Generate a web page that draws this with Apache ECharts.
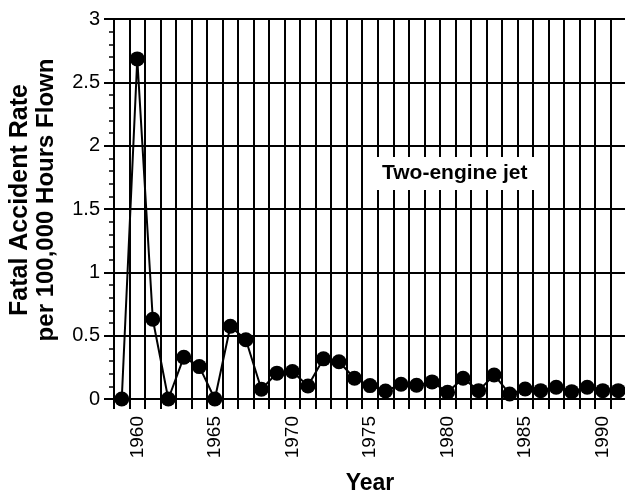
<!DOCTYPE html>
<html>
<head>
<meta charset="utf-8">
<script src="https://cdn.jsdelivr.net/npm/echarts@6/dist/echarts.min.js"></script>
<style>html,body{margin:0;padding:0;background:#fff;overflow:hidden;width:625px;height:499px;}#c{position:absolute;left:0;top:0;width:625px;height:499px;}</style>
</head>
<body>
<div id="c"></div>
<script>
const years = [1959,1960,1961,1962,1963,1964,1965,1966,1967,1968,1969,1970,1971,1972,1973,1974,1975,1976,1977,1978,1979,1980,1981,1982,1983,1984,1985,1986,1987,1988,1989,1990,1991];
const rates = [0,2.685,0.63,0,0.33,0.256,0,0.574,0.468,0.077,0.204,0.217,0.103,0.317,0.294,0.164,0.106,0.063,0.116,0.109,0.135,0.053,0.164,0.066,0.19,0.04,0.079,0.066,0.093,0.058,0.093,0.066,0.066];
const yTicks = [0,0.5,1,1.5,2,2.5,3];
const labelText = 'Two-engine jet';
const yTitle1 = 'Fatal Accident Rate';
const yTitle2 = 'per 100,000 Hours Flown';
const xTitle = 'Year';
const font = 'Liberation Sans, Arial, Helvetica, sans-serif';

const chart = echarts.init(document.getElementById('c'), null, {renderer:'canvas', width: 625, height: 499});
chart.setOption({
  animation: false,
  backgroundColor: '#fff',
  title: {
    text: labelText,
    left: 375, top: 157,
    backgroundColor: '#fff',
    padding: [6, 7],
    textStyle: {fontFamily: font, fontWeight: 'bold', fontSize: 21, color: '#000', lineHeight: 21}
  },
  graphic: [
    {type: 'text', x: 20, y: 200, rotation: Math.PI / 2, z: 10,
     style: {text: yTitle1, fill: '#000', font: 'bold 25px ' + font, textAlign: 'center', textVerticalAlign: 'middle'}},
    {type: 'text', x: 46, y: 200, rotation: Math.PI / 2, z: 10,
     style: {text: yTitle2, fill: '#000', font: 'bold 24px ' + font, textAlign: 'center', textVerticalAlign: 'middle'}}
  ],
  grid: {left: 114, top: 19, width: 512, height: 380, containLabel: false, outerBoundsMode: 'none'},
  xAxis: {
    type: 'category',
    data: years.map(String),
    boundaryGap: true,
    name: xTitle,
    nameLocation: 'middle',
    nameGap: 73,
    nameTextStyle: {fontFamily: font, fontWeight: 'bold', fontSize: 23, color: '#000'},
    axisLine: {show: true, lineStyle: {color: '#000', width: 2}},
    axisTick: {show: true, interval: 0, length: 10, lineStyle: {color: '#000', width: 2}},
    splitLine: {show: true, interval: 0, lineStyle: {color: '#000', width: 2}},
    axisLabel: {
      interval: function (i, v) { return Number(v) % 5 === 0; },
      rotate: 90, margin: 17,
      fontFamily: font, fontSize: 19, color: '#000'
    }
  },
  yAxis: {
    type: 'value',
    min: 0, max: 3, interval: 0.5,
    axisLine: {show: true, lineStyle: {color: '#000', width: 2}},
    axisTick: {show: true, length: 10, lineStyle: {color: '#000', width: 2}},
    minorTick: {show: true, splitNumber: 5, length: 5, lineStyle: {color: '#000', width: 1.5}},
    splitLine: {show: true, lineStyle: {color: '#000', width: 2}},
    axisLabel: {
      margin: 14, fontFamily: font, fontSize: 20, color: '#000',
      formatter: function (v) { return yTicks.indexOf(v) >= 0 ? String(v) : ''; }
    }
  },
  series: [{
    type: 'line',
    data: rates,
    symbol: 'circle',
    symbolSize: 15,
    showAllSymbol: true,
    lineStyle: {color: '#000', width: 2},
    itemStyle: {color: '#000'},
    z: 5
  }]
});
</script>
</body>
</html>
